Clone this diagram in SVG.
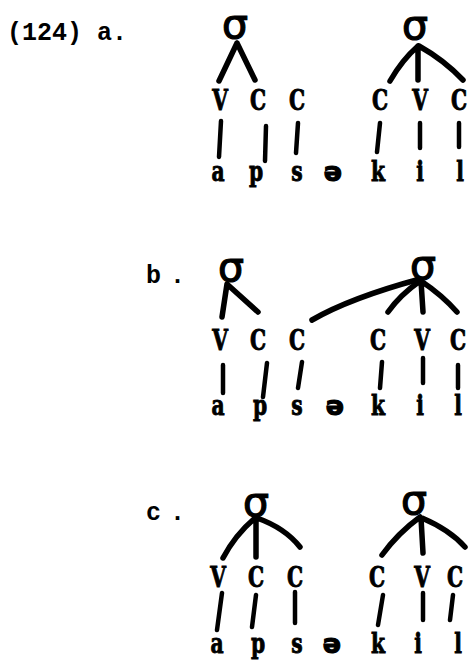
<svg xmlns="http://www.w3.org/2000/svg" width="470" height="661" viewBox="0 0 470 661">
<style>
.lab{font-family:"Liberation Mono","Courier New",monospace;font-weight:bold;font-size:25px;fill:#000}
.sk{font-family:"DejaVu Serif",serif;font-weight:bold;font-size:27px;fill:#000;stroke:#000;stroke-width:0.9;text-anchor:middle}
.seg{font-family:"DejaVu Serif",serif;font-weight:bold;font-size:27px;fill:#000;stroke:#000;stroke-width:0.9;text-anchor:middle}
.schwa{font-family:"DejaVu Sans",sans-serif;font-weight:bold;font-size:27px;fill:#000;stroke:#000;stroke-width:1.2;text-anchor:middle}
.sg{font-family:"DejaVu Sans",sans-serif;font-size:41px;fill:#000;stroke:#000;stroke-width:1.2}
.ln{stroke:#000;stroke-width:5.5;stroke-linecap:round;fill:none}
.vl{stroke:#000;stroke-width:4.5;stroke-linecap:round;fill:none}
</style>
<rect width="470" height="661" fill="#fff"/>
<g id="labels">
<text class="lab" x="7" y="40">(124) a.</text>
<text class="lab" x="146" y="283">b<tspan x="170">.</tspan></text>
<text class="lab" x="146" y="520">c<tspan x="170">.</tspan></text>
</g>
<g id="panel-a">
<g id="a-syl1"><text class="sg" x="222" y="38">σ</text></g>
<g id="a-syl2"><text class="sg" x="402" y="39">σ</text></g>
<g id="a-skeleton" transform="scale(0.75 1)">
<text class="sk" x="293.33" y="110">V</text><text class="sk" x="344" y="110">C</text><text class="sk" x="396" y="110">C</text>
<text class="sk" x="506.67" y="110">C</text><text class="sk" x="560" y="110">V</text><text class="sk" x="612" y="110">C</text>
</g>
<g id="a-segments">
<g transform="scale(0.75 1)">
<text class="seg" x="290.67" y="181">a</text><text class="seg" x="341.33" y="181">p</text><text class="seg" x="396" y="181">s</text>
<text class="seg" x="504" y="181">k</text><text class="seg" x="560" y="181">i</text><text class="seg" x="613.33" y="181">l</text>
</g>
<text class="schwa" x="333" y="181">ə</text>
</g>
</g>
<g id="panel-b">
<g id="b-syl1"><text class="sg" x="218" y="281">σ</text></g>
<g id="b-syl2"><text class="sg" x="410" y="279">σ</text></g>
<g id="b-skeleton" transform="scale(0.75 1)">
<text class="sk" x="293.33" y="350">V</text><text class="sk" x="344" y="350">C</text><text class="sk" x="396" y="350">C</text>
<text class="sk" x="504" y="350">C</text><text class="sk" x="562.67" y="350">V</text><text class="sk" x="610.67" y="350">C</text>
</g>
<g id="b-segments">
<g transform="scale(0.75 1)">
<text class="seg" x="290.67" y="415">a</text><text class="seg" x="346.67" y="415">p</text><text class="seg" x="396" y="415">s</text>
<text class="seg" x="504" y="415">k</text><text class="seg" x="560" y="415">i</text><text class="seg" x="610.67" y="415">l</text>
</g>
<text class="schwa" x="335" y="415">ə</text>
</g>
</g>
<g id="panel-c">
<g id="c-syl1"><text class="sg" x="243" y="516">σ</text></g>
<g id="c-syl2"><text class="sg" x="401" y="514">σ</text></g>
<g id="c-skeleton" transform="scale(0.75 1)">
<text class="sk" x="290.67" y="587">V</text><text class="sk" x="341.33" y="587">C</text><text class="sk" x="393.33" y="587">C</text>
<text class="sk" x="502.67" y="587">C</text><text class="sk" x="562.67" y="587">V</text><text class="sk" x="606.67" y="587">C</text>
</g>
<g id="c-segments">
<g transform="scale(0.75 1)">
<text class="seg" x="289.33" y="653">a</text><text class="seg" x="344" y="653">p</text><text class="seg" x="396" y="653">s</text>
<text class="seg" x="504" y="653">k</text><text class="seg" x="557.33" y="653">i</text><text class="seg" x="610.67" y="653">l</text>
</g>
<text class="schwa" x="332" y="653">ə</text>
</g>
</g>
<g id="connectors">
<path class="ln" d="M237 43 L219 81 M237 43 L255 80"/>
<path class="ln" d="M418 46 Q402 60 390 81 M418 46 L418 80 M419 46 Q444 60 463 80"/>
<path class="vl" d="M221 121 L219 157 M266 126 L265 161 M298 123 L296 153 M380 123 L377 152 M420 123 L420 148 M459 123 L459 147"/>
<path class="ln" d="M227 284 L222 317 M228 285 L258 312"/>
<path class="ln" d="M312 320 Q350 298 420 279"/>
<path class="ln" d="M420 281 Q400 295 388 312 M421 281 L423 312 M421 281 Q442 295 457 312"/>
<path class="vl" d="M223 365 L223 393 M267 363 L263 397 M302 362 L298 388 M382 362 L380 388 M423 358 L423 383 M458 365 L458 388"/>
<path class="ln" d="M255 518 Q235 535 223 558 M256 518 L256 557 M257 518 Q285 528 300 547"/>
<path class="ln" d="M420 517 Q398 533 382 555 M421 518 L423 553 M422 518 Q450 530 465 547"/>
<path class="vl" d="M222 593 L217 630 M256 595 L252 627 M295 592 L295 623 M383 595 L378 625 M423 593 L423 620 M453 595 L450 620"/>
</g>
</svg>
